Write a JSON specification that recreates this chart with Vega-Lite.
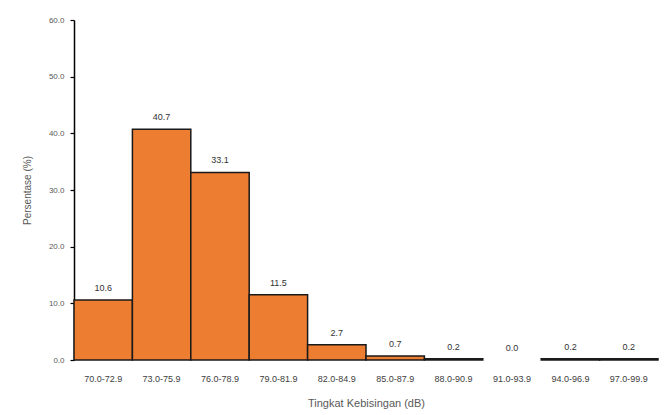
{
  "$schema": "https://vega.github.io/schema/vega-lite/v6.json",
  "width": 584,
  "height": 340,
  "autosize": "none",
  "padding": {"left": 74, "top": 20, "right": 11, "bottom": 55},
  "background": "white",
  "config": {"view": {"stroke": null}, "font": "Liberation Sans"},
  "data": {"values": [
    {"bin": "70.0-72.9", "pct": 10.6},
    {"bin": "73.0-75.9", "pct": 40.7},
    {"bin": "76.0-78.9", "pct": 33.1},
    {"bin": "79.0-81.9", "pct": 11.5},
    {"bin": "82.0-84.9", "pct": 2.7},
    {"bin": "85.0-87.9", "pct": 0.7},
    {"bin": "88.0-90.9", "pct": 0.2},
    {"bin": "91.0-93.9", "pct": 0.0},
    {"bin": "94.0-96.9", "pct": 0.2},
    {"bin": "97.0-99.9", "pct": 0.2}
  ]},
  "encoding": {
    "x": {
      "field": "bin", "type": "ordinal", "sort": null,
      "scale": {"paddingInner": 0, "paddingOuter": 0},
      "axis": {
        "title": "Tingkat Kebisingan (dB)", "titleFont": "Liberation Sans", "titleFontSize": 11,
        "titleFontWeight": "normal", "titleColor": "#595959", "titlePadding": 14,
        "labelAngle": 0, "labelFontSize": 9, "labelColor": "#404040", "labelPadding": 14,
        "domain": false, "ticks": false
      }
    },
    "y": {
      "field": "pct", "type": "quantitative",
      "scale": {"domain": [0, 60]},
      "axis": {
        "title": "Persentase (%)", "titleFontSize": 10, "titleFontWeight": "normal",
        "titleColor": "#595959", "titlePadding": 16,
        "values": [0, 10, 20, 30, 40, 50, 60], "format": ".1f",
        "labelFontSize": 8, "labelColor": "#595959", "labelPadding": 6,
        "grid": false, "domainColor": "#000000", "domainWidth": 1.5,
        "tickColor": "#000000", "tickSize": 4, "tickWidth": 1.2
      }
    }
  },
  "layer": [
    {"mark": {"type": "bar", "color": "#ED7D31", "stroke": "#1a1a1a", "strokeWidth": 1.5},
     "encoding": {"strokeOpacity": {"condition": {"test": "datum.pct === 0", "value": 0}, "value": 1}}},
    {"mark": {"type": "text", "baseline": "bottom", "dy": -7, "fontSize": 9, "color": "#333333"},
     "encoding": {"text": {"field": "pct", "type": "quantitative", "format": ".1f"}}}
  ]
}
